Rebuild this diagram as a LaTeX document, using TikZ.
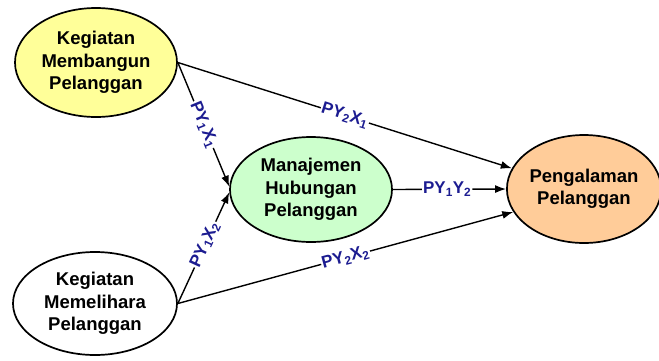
\documentclass[tikz,border=0pt]{standalone}
\usepackage{fontspec}
\setmainfont{Liberation Sans}
\usetikzlibrary{shapes.geometric,arrows.meta}
\definecolor{yel}{RGB}{255,255,153}
\definecolor{grn}{RGB}{204,255,204}
\definecolor{org}{RGB}{255,204,153}
\definecolor{lblue}{RGB}{28,28,145}
\newcommand{\sbs}[1]{\textsubscript{#1}}
\tikzset{
  ellnode/.style={ellipse, draw=black, line width=1.7pt, inner sep=0pt, align=center,
    font=\fontsize{18.5}{22.5}\selectfont\bfseries},
  conn/.style={line width=1.4pt, -{Latex[length=11pt,width=8pt]}},
  lbl/.style={sloped, fill=white, inner sep=1pt, text=lblue,
    font=\fontsize{17}{18}\selectfont\bfseries}
}
\begin{document}
\begin{tikzpicture}[x=1pt,y=-1pt]
\useasboundingbox (0,0) rectangle (659,360);
\node[ellnode, fill=yel, minimum width=162pt, minimum height=109pt] (A) at (96,62.5) {Kegiatan\\Membangun\\Pelanggan};
\node[ellnode, fill=white, minimum width=164pt, minimum height=103pt] (B) at (95,303.5) {Kegiatan\\Memelihara\\Pelanggan};
\node[ellnode, fill=grn, minimum width=162pt, minimum height=105pt] (C) at (311,189.5) {Manajemen\\Hubungan\\Pelanggan};
\node[ellnode, fill=org, minimum width=148pt, minimum height=108pt] (D) at (584,189) {Pengalaman\\Pelanggan};
\draw[conn] (A.east) -- node[lbl, pos=0.5] {PY\sbs{1}X\sbs{1}} (C.178);
\draw[conn] (B.east) -- node[lbl, pos=0.53] {PY\sbs{1}X\sbs{2}} (C.182);
\draw[conn] (A.east) -- node[lbl, pos=0.5] {PY\sbs{2}X\sbs{1}} (D.164);
\draw[conn] (B.east) -- node[lbl, pos=0.5] {PY\sbs{2}X\sbs{2}} (D.198);
\draw[conn] (C.east) -- node[lbl, pos=0.48] {PY\sbs{1}Y\sbs{2}} (D.west);
\end{tikzpicture}
\end{document}
